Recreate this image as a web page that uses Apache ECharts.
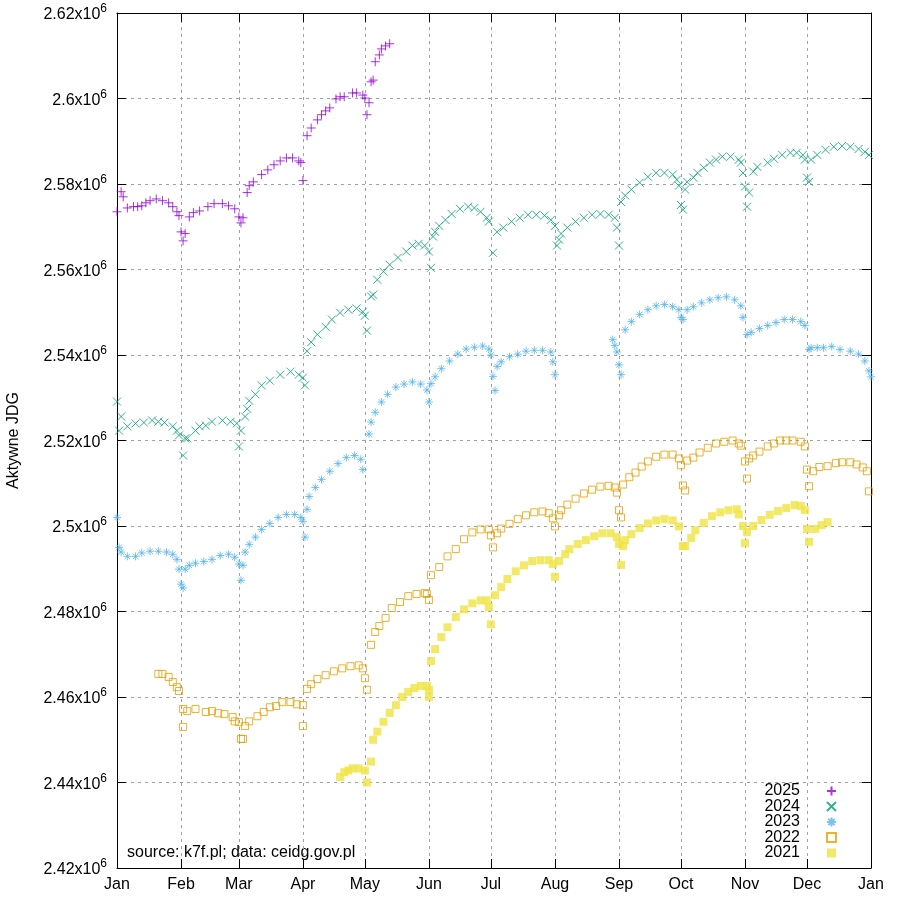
<!DOCTYPE html>
<html>
<head>
<meta charset="utf-8">
<script src="https://cdn.jsdelivr.net/npm/echarts@6/dist/echarts.min.js"></script>
<style>
  html, body { margin: 0; padding: 0; background: #fff; }
  #chart { width: 900px; height: 900px; }
</style>
</head>
<body>
<div id="chart"></div>
<script>
// values are [day of year, active JDG in thousands]
const y2025 = [[0,2573.5],[2,2578.2],[3,2577.0],[5,2574.4],[8,2574.7],[10,2574.7],[12,2574.9],[14,2575.6],[16,2576.1],[19,2576.5],[22,2576.1],[25,2575.6],[27,2574.7],[29,2573.5],[30,2572.6],[31,2568.8],[32,2566.7],[33,2568.4],[35,2572.3],[37,2573.3],[40,2573.7],[44,2574.7],[47,2575.4],[51,2575.4],[54,2574.9],[57,2574.2],[59,2572.3],[60,2570.9],[61,2572.1],[63,2578.0],[64,2579.6],[66,2580.5],[70,2582.2],[73,2583.3],[76,2584.5],[79,2585.4],[82,2586.1],[85,2586.1],[88,2585.4],[89,2585.0],[90,2580.8],[92,2591.3],[94,2593.1],[97,2595.0],[99,2596.2],[101,2597.1],[103,2597.8],[106,2599.9],[108,2600.4],[110,2600.4],[114,2601.3],[116,2601.3],[119,2600.8],[120,2600.1],[121,2596.2],[122,2599.0],[123,2603.9],[124,2604.3],[125,2608.6],[127,2610.2],[128,2611.6],[130,2612.3],[132,2612.8]];

const y2024 = [[0,2529.1],[1,2522.3],[2,2525.6],[5,2523.3],[9,2524.0],[13,2524.2],[17,2524.7],[20,2524.4],[23,2524.2],[27,2523.3],[29,2522.3],[30,2521.2],[32,2516.5],[33,2520.5],[34,2520.5],[38,2522.3],[40,2523.3],[43,2523.5],[46,2524.4],[51,2524.7],[55,2524.4],[58,2524.0],[59,2518.6],[60,2522.3],[62,2525.6],[63,2527.4],[64,2529.3],[67,2530.8],[70,2532.9],[74,2534.0],[79,2535.4],[84,2536.1],[88,2535.4],[90,2534.7],[91,2532.9],[92,2540.9],[94,2543.0],[97,2544.8],[101,2546.6],[104,2548.3],[108,2549.9],[112,2550.6],[116,2550.9],[119,2550.1],[120,2549.2],[121,2545.7],[123,2553.7],[124,2554.1],[126,2557.6],[129,2559.5],[132,2561.1],[136,2562.8],[140,2564.2],[143,2565.6],[146,2566.0],[149,2565.6],[151,2564.2],[152,2560.4],[153,2567.7],[154,2568.8],[156,2570.2],[159,2571.6],[162,2573.0],[166,2574.2],[170,2574.7],[173,2574.4],[176,2573.5],[179,2572.1],[180,2571.2],[182,2563.9],[184,2568.8],[187,2569.8],[191,2571.2],[195,2572.1],[199,2572.8],[203,2572.8],[207,2572.6],[210,2571.6],[212,2570.2],[213,2565.6],[214,2567.0],[215,2568.4],[218,2569.8],[222,2571.2],[226,2572.1],[230,2572.8],[234,2573.0],[238,2572.8],[241,2572.1],[242,2569.8],[243,2565.6],[244,2575.8],[246,2577.3],[249,2578.7],[253,2580.3],[257,2581.7],[261,2582.6],[265,2582.6],[269,2582.2],[271,2581.0],[272,2579.6],[273,2575.1],[274,2574.0],[275,2578.7],[276,2580.5],[279,2581.5],[281,2582.6],[284,2583.8],[287,2585.0],[290,2585.7],[293,2586.4],[297,2586.4],[301,2585.7],[302,2585.0],[303,2582.6],[304,2579.4],[305,2574.7],[306,2578.0],[308,2582.9],[310,2584.0],[315,2585.0],[318,2585.9],[322,2586.8],[326,2587.3],[329,2587.3],[332,2586.8],[333,2585.7],[334,2581.5],[335,2580.5],[336,2585.7],[339,2586.8],[343,2588.0],[347,2588.7],[351,2588.9],[355,2588.7],[359,2588.2],[362,2587.5],[364,2586.8]];

const y2023 = [[0,2502.0],[1,2495.0],[2,2493.9],[5,2492.9],[9,2492.9],[12,2493.7],[16,2494.1],[20,2494.1],[24,2493.9],[27,2493.4],[29,2492.2],[30,2489.9],[31,2486.4],[32,2485.5],[33,2489.9],[35,2490.8],[38,2491.3],[42,2491.7],[46,2492.2],[50,2493.1],[54,2493.4],[57,2492.7],[59,2491.1],[60,2487.3],[61,2490.8],[62,2493.9],[64,2495.7],[67,2497.4],[70,2499.2],[74,2500.6],[78,2502.0],[82,2502.7],[86,2502.7],[89,2502.0],[90,2501.1],[91,2497.4],[92,2503.9],[93,2506.9],[96,2509.0],[99,2510.9],[103,2512.8],[107,2514.6],[111,2516.0],[115,2516.5],[118,2515.6],[119,2513.2],[122,2521.5],[123,2524.3],[125,2526.6],[128,2529.0],[131,2530.8],[135,2532.5],[139,2533.2],[143,2533.7],[147,2533.2],[150,2531.8],[151,2529.0],[152,2533.3],[154,2534.9],[157,2536.8],[161,2538.6],[165,2540.2],[169,2541.4],[173,2541.8],[177,2542.1],[180,2541.4],[181,2540.0],[182,2535.0],[183,2531.7],[184,2537.3],[186,2538.4],[190,2539.6],[194,2540.2],[198,2540.9],[202,2541.1],[206,2541.1],[210,2540.7],[211,2538.4],[212,2535.4],[240,2543.6],[241,2542.2],[242,2540.7],[243,2537.7],[244,2535.4],[246,2545.9],[249,2547.8],[253,2549.5],[257,2550.6],[261,2551.5],[265,2551.8],[269,2551.3],[272,2550.6],[273,2548.8],[274,2548.3],[276,2550.6],[279,2551.3],[283,2552.2],[287,2552.9],[291,2553.4],[295,2553.6],[299,2552.9],[302,2551.5],[303,2548.8],[305,2544.8],[307,2545.3],[311,2546.2],[315,2546.9],[319,2547.6],[323,2548.3],[327,2548.3],[331,2547.8],[333,2546.9],[335,2541.3],[336,2541.7],[339,2541.7],[342,2541.7],[346,2542.0],[350,2541.3],[355,2540.9],[359,2540.2],[362,2538.6],[364,2536.3],[365,2534.9]];

const y2022 = [[20,2465.4],[22,2465.4],[25,2464.7],[27,2463.5],[29,2462.3],[30,2461.4],[32,2457.2],[32,2453.0],[34,2456.7],[38,2457.2],[43,2456.5],[46,2456.7],[49,2456.2],[52,2456.0],[56,2455.3],[57,2454.3],[59,2454.1],[60,2450.2],[61,2450.2],[62,2453.2],[64,2454.3],[68,2455.5],[71,2456.5],[74,2457.6],[77,2457.9],[80,2458.8],[84,2458.8],[87,2458.3],[90,2458.1],[90,2453.2],[92,2461.9],[94,2463.0],[97,2464.2],[101,2465.1],[105,2466.0],[109,2466.7],[113,2467.2],[117,2467.4],[119,2466.7],[120,2464.4],[121,2461.7],[123,2472.2],[125,2475.2],[127,2476.6],[130,2478.5],[133,2480.8],[137,2482.2],[141,2483.6],[145,2484.1],[149,2484.3],[150,2484.1],[151,2482.7],[152,2488.5],[156,2490.4],[160,2492.9],[164,2494.6],[168,2496.9],[172,2498.5],[176,2499.2],[180,2499.2],[181,2497.8],[182,2495.0],[184,2498.3],[186,2499.4],[190,2500.5],[194,2501.6],[198,2502.5],[202,2503.2],[206,2503.4],[209,2503.0],[211,2501.8],[212,2499.9],[214,2502.5],[215,2503.7],[218,2505.0],[222,2506.4],[226,2507.6],[230,2508.5],[234,2509.2],[238,2509.4],[241,2509.0],[242,2507.8],[243,2503.7],[244,2502.0],[245,2509.7],[248,2511.4],[251,2512.5],[254,2513.9],[257,2515.1],[261,2516.2],[265,2516.7],[269,2516.7],[272,2515.8],[273,2514.2],[274,2509.5],[275,2508.3],[276,2515.3],[279,2516.0],[282,2517.2],[286,2518.3],[290,2519.3],[294,2519.7],[298,2520.0],[301,2519.3],[302,2518.8],[304,2515.1],[305,2511.1],[306,2515.8],[308,2516.5],[311,2517.4],[315,2518.6],[318,2519.3],[321,2520.0],[324,2520.0],[327,2520.0],[331,2519.7],[333,2518.6],[334,2513.2],[335,2509.3],[337,2512.8],[340,2513.8],[344,2514.0],[348,2514.7],[351,2514.9],[355,2514.9],[358,2514.4],[361,2513.7],[363,2512.8],[364,2508.1]];

const y2021 = [[108,2441.3],[110,2442.4],[112,2442.8],[114,2443.3],[117,2443.3],[120,2442.8],[121,2440.0],[123,2444.9],[124,2450.0],[126,2451.9],[129,2454.2],[132,2456.3],[135,2458.1],[138,2460.0],[141,2461.2],[144,2462.1],[147,2462.6],[150,2462.6],[151,2461.7],[151,2460.0],[152,2468.4],[154,2471.2],[157,2474.0],[160,2476.3],[164,2478.7],[168,2480.5],[172,2481.9],[176,2482.6],[179,2482.6],[180,2481.0],[181,2477.0],[183,2483.8],[186,2485.7],[189,2487.6],[193,2489.4],[197,2490.8],[201,2491.8],[205,2492.0],[209,2492.0],[211,2491.1],[212,2488.1],[214,2491.8],[217,2493.4],[219,2494.6],[223,2495.8],[227,2496.7],[231,2497.6],[235,2498.3],[239,2498.3],[242,2497.4],[243,2495.8],[244,2490.9],[245,2495.3],[246,2496.7],[249,2498.1],[253,2499.5],[257,2500.6],[261,2501.3],[265,2501.6],[269,2501.3],[272,2499.9],[274,2495.3],[275,2495.3],[278,2497.2],[280,2499.0],[284,2500.7],[288,2502.3],[292,2503.2],[296,2503.7],[300,2503.9],[301,2502.7],[303,2500.0],[304,2496.0],[305,2498.6],[308,2500.0],[312,2501.4],[316,2502.6],[320,2503.5],[324,2504.2],[328,2504.9],[331,2504.7],[333,2503.7],[334,2499.3],[335,2496.3],[338,2499.3],[341,2500.2],[344,2500.9]];

const monthStarts = [0, 31, 59, 90, 120, 151, 181, 212, 243, 273, 304, 334, 365];
const monthLabels = ['Jan', 'Feb', 'Mar', 'Apr', 'May', 'Jun', 'Jul', 'Aug', 'Sep', 'Oct', 'Nov', 'Dec', 'Jan'];

const font = 'Liberation Sans, Arial, sans-serif';
const chart = echarts.init(document.getElementById('chart'));

function years(name, data, symbol, size, color, filled) {
  return {
    name: name,
    type: 'scatter',
    data: data.map(d => [d[0], d[1] * 1000]),
    symbol: symbol,
    symbolSize: size,
    itemStyle: filled
      ? { color: color }
      : { color: 'rgba(0,0,0,0)', borderColor: color, borderWidth: 1 },
    emphasis: { disabled: true },
    animation: false
  };
}

const mirrorX = {
  type: 'value', min: 0, max: 365, position: 'top',
  axisLine: { show: true, lineStyle: { color: '#000' } },
  axisTick: { inside: true, length: 9, customValues: monthStarts, lineStyle: { color: '#000' } },
  axisLabel: { show: false },
  splitLine: { show: false }
};

var option = {
  backgroundColor: '#fff',
  animation: false,
  grid: { left: 117, right: 29, top: 13, bottom: 32, outerBoundsMode: 'none', containLabel: false },
  legend: {
    orient: 'vertical',
    right: 58,
    bottom: 34,
    align: 'right',
    itemWidth: 9,
    itemHeight: 9,
    itemGap: -0.5,
    textStyle: { fontFamily: font, fontSize: 16, color: '#000', padding: [0, 22, 0, 0] },
    data: ['2025', '2024', '2023', '2022', '2021']
  },
  graphic: [{
    type: 'text', left: 127, top: 845,
    style: { text: 'source: k7f.pl; data: ceidg.gov.pl', font: '16px ' + font, fill: '#000' }
  }],
  xAxis: [{
    type: 'value', min: 0, max: 365,
    axisLine: { show: true, onZero: false, lineStyle: { color: '#000' } },
    axisTick: { inside: true, length: 9, customValues: monthStarts, lineStyle: { color: '#000' } },
    axisLabel: {
      customValues: monthStarts, margin: 9, color: '#000', fontFamily: font, fontSize: 16,
      formatter: function (v) { return monthLabels[monthStarts.indexOf(v)]; }
    },
    splitLine: { show: true, lineStyle: { color: '#a0a0a0', type: [3, 4] } }
  }, mirrorX],
  yAxis: [{
    type: 'value', min: 2420000, max: 2620000, interval: 20000,
    name: 'Aktywne JDG', nameLocation: 'middle', nameGap: 95,
    nameTextStyle: { fontFamily: font, fontSize: 16, color: '#000' },
    axisLine: { show: true, onZero: false, lineStyle: { color: '#000' } },
    axisTick: { inside: true, length: 9, lineStyle: { color: '#000' } },
    axisLabel: {
      margin: 10, color: '#000', fontFamily: font, fontSize: 16,
      formatter: function (v) { return '{m|' + parseFloat((v / 1e6).toFixed(2)) + 'x10}{e|6}'; },
      rich: {
        m: { fontFamily: font, fontSize: 16, color: '#000', padding: [4, 0, 0, 0] },
        e: { fontFamily: font, fontSize: 12, color: '#000', padding: [0, 0, 8, 0] }
      }
    },
    splitLine: { show: true, lineStyle: { color: '#a0a0a0', type: [3, 4] } }
  }, {
    type: 'value', min: 2420000, max: 2620000, interval: 20000, position: 'right',
    axisLine: { show: true, onZero: false, lineStyle: { color: '#000' } },
    axisTick: { inside: true, length: 9, lineStyle: { color: '#000' } },
    axisLabel: { show: false },
    splitLine: { show: false }
  }],
  series: [
    years('2025', y2025, 'path://M5,0L5,10M0,5L10,5', 9, '#9400d3', false),
    years('2024', y2024, 'path://M0,0L10,10M0,10L10,0', 8, '#009e73', false),
    years('2023', y2023, 'path://M5,0L5,10M0,5L10,5M1.5,1.5L8.5,8.5M1.5,8.5L8.5,1.5', 8, '#56b4e9', false),
    years('2022', y2022, 'rect', 7, '#e69f00', false),
    years('2021', y2021, 'rect', 8, '#f0e442', true)
  ]
};

chart.setOption(option);
</script>
</body>
</html>
